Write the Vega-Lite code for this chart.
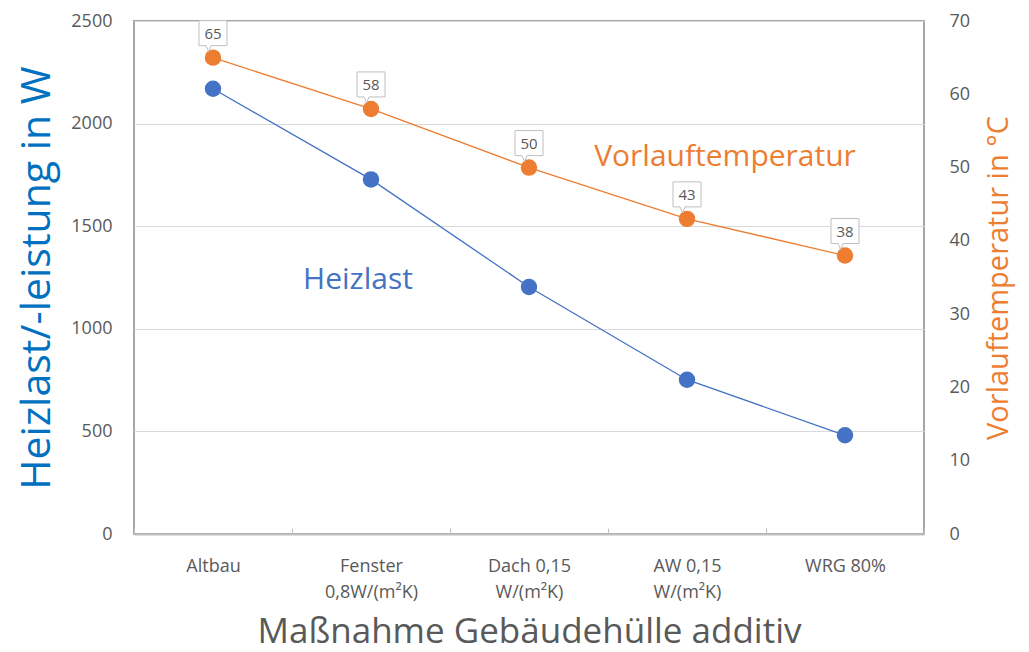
{
  "$schema": "https://vega.github.io/schema/vega-lite/v6.json",
  "width": 790,
  "height": 513,
  "autosize": "none",
  "padding": {"left": 134, "top": 21, "right": 105, "bottom": 118},
  "background": "white",
  "config": {
    "font": "Open Sans",
    "view": {"stroke": "#A6A6A6", "strokeWidth": 2},
    "axis": {"labelColor": "#595959", "labelFont": "Open Sans", "titleFont": "Open Sans", "titleFontWeight": "normal"}
  },
  "datasets": {
    "main": [
      {"cat": "Altbau", "heiz": 2170, "temp": 65},
      {"cat": "Fenster|0,8W/(m²K)", "heiz": 1728, "temp": 58},
      {"cat": "Dach 0,15|W/(m²K)", "heiz": 1204, "temp": 50},
      {"cat": "AW 0,15|W/(m²K)", "heiz": 752, "temp": 43},
      {"cat": "WRG 80%", "heiz": 481, "temp": 38}
    ],
    "annL": [{"cat": "Fenster|0,8W/(m²K)", "heiz": 1238, "label": "Heizlast"}],
    "annR": [{"cat": "AW 0,15|W/(m²K)", "temp": 51.4, "label": "Vorlauftemperatur"}]
  },
  "data": {"name": "main"},
  "encoding": {
    "x": {
      "field": "cat",
      "type": "nominal",
      "sort": null,
      "scale": {"domain": ["Altbau", "Fenster|0,8W/(m²K)", "Dach 0,15|W/(m²K)", "AW 0,15|W/(m²K)", "WRG 80%"], "paddingInner": 0, "paddingOuter": 0},
      "axis": {
        "title": "Maßnahme Gebäudehülle additiv",
        "titleFontSize": 35,
        "titleColor": "#595959",
        "titlePadding": 13,
        "labelExpr": "split(datum.label, '|')",
        "labelAngle": 0,
        "labelFontSize": 18,
        "labelLineHeight": 26,
        "labelPadding": 29,
        "labelBaseline": "top",
        "tickBand": "extent",
        "tickSize": -6,
        "tickColor": "#BFBFBF",
        "domainColor": "#BFBFBF",
        "domainWidth": 2,
        "grid": false
      }
    }
  },
  "layer": [
    {
      "encoding": {
        "y": {
          "field": "heiz",
          "type": "quantitative",
          "scale": {"domain": [0, 2500], "nice": false},
          "axis": {
            "title": "Heizlast/-leistung in W",
            "titleColor": "#0070C0",
            "titleFontSize": 41,
            "titlePadding": 12,
            "values": [0, 500, 1000, 1500, 2000, 2500],
            "format": "d",
            "labelFontSize": 18,
            "labelPadding": 22,
            "ticks": false,
            "domain": false,
            "grid": true,
            "gridColor": "#D9D9D9",
            "gridWidth": 1
          }
        }
      },
      "layer": [
        {"mark": {"type": "line", "color": "#4472C4", "strokeWidth": 1.3}},
        {"mark": {"type": "point", "shape": "circle", "filled": true, "opacity": 1, "size": 270, "color": "#4472C4"}},
        {
          "data": {"name": "annL"},
          "mark": {"type": "text", "color": "#4472C4", "fontSize": 30, "baseline": "middle", "align": "center", "dx": -13},
          "encoding": {"text": {"field": "label"}}
        }
      ]
    },
    {
      "encoding": {
        "y": {
          "field": "temp",
          "type": "quantitative",
          "scale": {"domain": [0, 70], "nice": false},
          "axis": {
            "orient": "right",
            "title": "Vorlauftemperatur in °C",
            "titleColor": "#ED7D31",
            "titleFontSize": 29,
            "titleAngle": 270,
            "titleBaseline": "top",
            "titlePadding": 15,
            "values": [0, 10, 20, 30, 40, 50, 60, 70],
            "labelFontSize": 18,
            "labelPadding": 25,
            "ticks": false,
            "domain": false,
            "grid": false
          }
        }
      },
      "layer": [
        {"mark": {"type": "line", "color": "#ED7D31", "strokeWidth": 1.3}},
        {"mark": {"type": "point", "shape": "circle", "filled": true, "opacity": 1, "size": 270, "color": "#ED7D31"}},
        {
          "mark": {
            "type": "point",
            "shape": "M -0.7 -1.85 L 0.7 -1.85 L 0.7 -0.6 L -0.1 -0.6 L -0.22 -0.3 L -0.35 -0.6 L -0.7 -0.6 Z",
            "size": 1600,
            "filled": true,
            "fill": "white",
            "stroke": "#BFBFBF",
            "strokeWidth": 1,
            "opacity": 1
          }
        },
        {
          "mark": {"type": "text", "fontSize": 15, "color": "#595959", "baseline": "middle", "align": "center", "dy": -24},
          "encoding": {"text": {"field": "temp", "type": "quantitative"}}
        },
        {
          "data": {"name": "annR"},
          "mark": {"type": "text", "color": "#ED7D31", "fontSize": 30, "baseline": "middle", "align": "center", "dx": 38},
          "encoding": {"text": {"field": "label"}}
        }
      ]
    }
  ],
  "resolve": {"scale": {"y": "independent"}}
}
